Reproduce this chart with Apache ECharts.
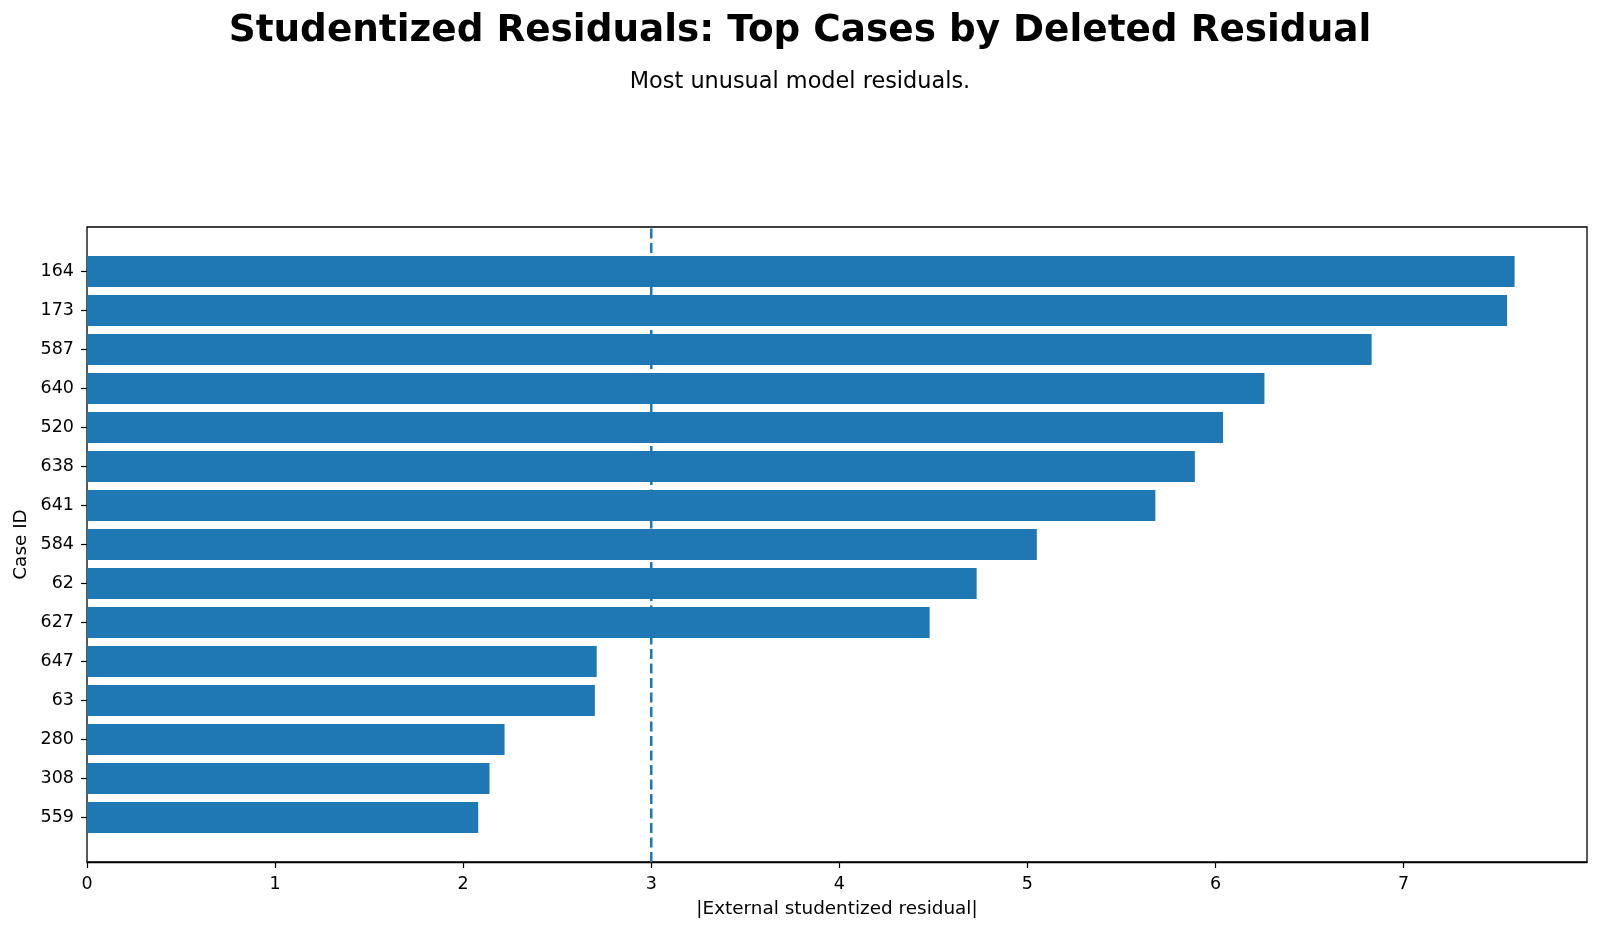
<!DOCTYPE html>
<html>
<head>
<meta charset="utf-8">
<script src="https://cdn.jsdelivr.net/npm/echarts@6/dist/echarts.min.js"></script>
<style>html,body{margin:0;padding:0;background:#fff}#c{width:1600px;height:932px}</style>
</head>
<body>
<div id="c"></div>
<script>
const caseIds = ['164','173','587','640','520','638','641','584','62','627','647','63','280','308','559'];
const residuals = [7.59, 7.55, 6.83, 6.26, 6.04, 5.89, 5.68, 5.05, 4.73, 4.48, 2.71, 2.70, 2.22, 2.14, 2.08];
const thresholdX = [3, 3];
const thresholdY = [-1.14, 15.14];
const xTicks = ['0','1','2','3','4','5','6','7'];

const FONT = 'DejaVu Sans';
const BLUE = '#1f77b4';
const XMAX = 7.975;

const chart = echarts.init(document.getElementById('c'), null, {renderer: 'canvas'});
chart.setOption({
  animation: false,
  backgroundColor: '#fff',
  textStyle: {fontFamily: FONT, color: '#000'},
  title: [
    {text: 'Studentized Residuals: Top Cases by Deleted Residual', left: 'center', top: 8,
     textStyle: {fontFamily: FONT, fontSize: 37.4, fontWeight: 'bold', color: '#000', lineHeight: 37.4}},
    {text: 'Most unusual model residuals.', left: 'center', top: 66,
     textStyle: {fontFamily: FONT, fontSize: 22.4, fontWeight: 'normal', color: '#000', lineHeight: 22.4}}
  ],
  grid: [
    {left: 87, right: 13, top: 252, bottom: 95, containLabel: false},
    {left: 87, right: 13, top: 227, bottom: 70, containLabel: false, show: true, borderColor: '#000', borderWidth: 1.3, backgroundColor: 'transparent', z: 0}
  ],
  xAxis: [
    {type: 'value', gridIndex: 0, min: 0, max: XMAX, show: false},
    {type: 'value', gridIndex: 1, min: 0, max: XMAX, interval: 1,
     axisLine: {show: true, onZero: false, lineStyle: {color: '#000', width: 1.3}},
     axisTick: {show: true, length: 6, lineStyle: {color: '#000', width: 1.2}},
     axisLabel: {show: true, fontSize: 17.5, color: '#000', fontFamily: FONT, margin: 13, showMaxLabel: false,
       formatter: v => xTicks[Math.round(v)] !== undefined && Math.abs(v - Math.round(v)) < 1e-6 ? xTicks[Math.round(v)] : ''},
     splitLine: {show: false},
     name: '|External studentized residual|', nameLocation: 'middle', nameGap: 38,
     nameTextStyle: {fontSize: 18.4, color: '#000', fontFamily: FONT}}
  ],
  yAxis: [
    {type: 'category', gridIndex: 0, data: caseIds, inverse: true,
     axisLine: {show: false},
     axisTick: {show: true, alignWithLabel: true, length: 6, lineStyle: {color: '#000', width: 1.2}},
     axisLabel: {fontSize: 17.5, color: '#000', fontFamily: FONT, margin: 13},
     splitLine: {show: false}},
    {type: 'value', gridIndex: 1, min: thresholdY[0], max: thresholdY[1],
     axisLine: {show: false, onZero: false}, axisTick: {show: false}, axisLabel: {show: false}, splitLine: {show: false},
     name: 'Case ID', nameLocation: 'middle', nameGap: 57, nameRotate: 90,
     nameTextStyle: {fontSize: 18.4, color: '#000', fontFamily: FONT}}
  ],
  series: [
    {type: 'bar', xAxisIndex: 0, yAxisIndex: 0, data: residuals, barCategoryGap: '20%',
     itemStyle: {color: BLUE}, z: 2},
    {type: 'line', xAxisIndex: 1, yAxisIndex: 1,
     data: thresholdX.map((x, i) => [x, thresholdY[i]]),
     symbol: 'none', z: 5,
     lineStyle: {color: BLUE, width: 2.5, type: [10, 4.5]}}
  ]
});
</script>
</body>
</html>
